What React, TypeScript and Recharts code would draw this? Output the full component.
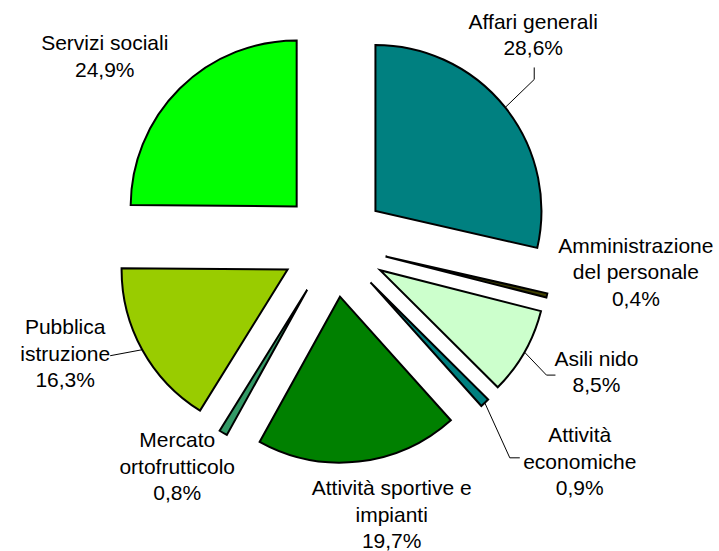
import React from 'react';
import { PieChart, Pie, Cell } from 'recharts';

const categories = [
  'Affari generali',
  'Amministrazione del personale',
  'Asili nido',
  'Attività economiche',
  'Attività sportive e impianti',
  'Mercato ortofrutticolo',
  'Pubblica istruzione',
  'Servizi sociali',
];
const values = [28.6, 0.4, 8.5, 0.9, 19.7, 0.8, 16.3, 24.9];
const valueLabels = ['28,6%', '0,4%', '8,5%', '0,9%', '19,7%', '0,8%', '16,3%', '24,9%'];
// how each label is broken into lines
const labelLines = [
  ['Affari generali', '28,6%'],
  ['Amministrazione', 'del personale', '0,4%'],
  ['Asili nido', '8,5%'],
  ['Attività', 'economiche', '0,9%'],
  ['Attività sportive e', 'impianti', '19,7%'],
  ['Mercato', 'ortofrutticolo', '0,8%'],
  ['Pubblica', 'istruzione', '16,3%'],
  ['Servizi sociali', '24,9%'],
];
const colors = ['#008080', '#404000', '#CCFFCC', '#008080', '#008000', '#339966', '#99CC00', '#00FF00'];

// layout
const CX = 334;
const CY = 244;
const R = 166;
const EXPLODE = 53;
const FONT = '"Liberation Sans", Arial, sans-serif';
// label first-line centre relative to outer midpoint of the slice
const labelOffsets = [
  [28, -86], [89, -50], [72, 6], [95, 32], [33, 26], [-46, 7], [-77, -23], [-75, -46],
];
// leader line points relative to outer midpoint (null = no line)
const leaders: (number[][] | null)[] = [
  [[29, -28], [29, -40]],
  null,
  [[22, 23], [31, 23]],
  [[25, 55], [35, 55]],
  null,
  null,
  [[-32, 6]],
  null,
];

const total = values.reduce((a, b) => a + b, 0);
const slices = values.map((v, i) => {
  const before = values.slice(0, i).reduce((a, b) => a + b, 0);
  const a0 = (before / total) * 360;
  const a1 = ((before + v) / total) * 360;
  const mid = ((a0 + a1) / 2) * Math.PI / 180;
  const dx = Math.sin(mid);
  const dy = -Math.cos(mid);
  return {
    name: categories[i],
    value: v,
    label: valueLabels[i],
    startAngle: 90 - a0,
    endAngle: 90 - a1,
    cx: CX + EXPLODE * dx,
    cy: CY + EXPLODE * dy,
    ox: CX + (EXPLODE + R) * dx,
    oy: CY + (EXPLODE + R) * dy,
  };
});

function makeLabel(i: number) {
  return () => {
    const s = slices[i];
    const [lx, ly] = labelOffsets[i];
    const lead = leaders[i];
    return (
      <g key={`lbl-${i}`}>
        {lead && (
          <polyline
            points={[[0, 0], ...lead].map(([x, y]) => `${s.ox + x},${s.oy + y}`).join(' ')}
            fill="none"
            stroke="#000"
            strokeWidth={1}
          />
        )}
        <text
          x={s.ox + lx}
          y={s.oy + ly + 7.5}
          textAnchor="middle"
          fontFamily={FONT}
          fontSize={21}
          fill="#000"
        >
          {labelLines[i].map((t, k) => (
            <tspan key={k} x={s.ox + lx} dy={k === 0 ? 0 : 26.5}>{t}</tspan>
          ))}
        </text>
      </g>
    );
  };
}

export default function App() {
  return (
    <div style={{ position: 'absolute', left: 0, top: 0, background: '#fff' }}>
      <PieChart width={719} height={551} margin={{ top: 0, right: 0, bottom: 0, left: 0 }}>
        {slices.map((s, i) => (
          <Pie
            key={s.name}
            data={[s]}
            dataKey="value"
            nameKey="name"
            cx={s.cx}
            cy={s.cy}
            outerRadius={R}
            startAngle={s.startAngle}
            endAngle={s.endAngle}
            stroke="#000"
            strokeWidth={2}
            labelLine={false}
            label={makeLabel(i)}
            isAnimationActive={false}
          >
            <Cell fill={colors[i]} />
          </Pie>
        ))}
      </PieChart>
    </div>
  );
}
